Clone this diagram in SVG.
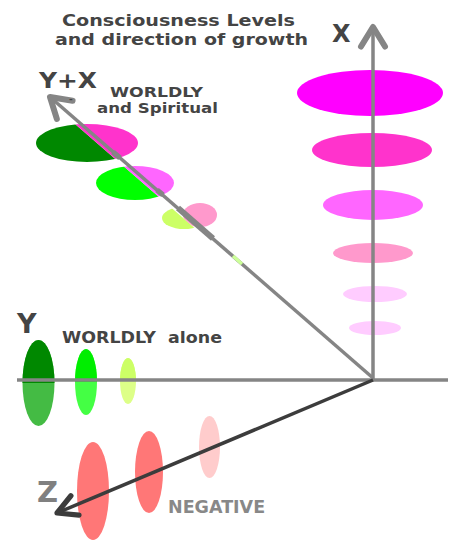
<svg xmlns="http://www.w3.org/2000/svg" width="455" height="541" viewBox="0 0 455 541">
<style>
.t{font-family:"DejaVu Sans",Verdana,sans-serif;font-weight:bold;fill:#444}
.ax{stroke:#858585;stroke-width:3.5;fill:none}
</style>
<defs>
<marker id="ah" markerUnits="userSpaceOnUse" markerWidth="30" markerHeight="30" refX="0" refY="0" viewBox="-16 -10 20 20" orient="auto" overflow="visible">
<path d="M-13,-8 L0,0 L-13,8" fill="none" stroke="#858585" stroke-width="4" stroke-linecap="round" stroke-linejoin="round"/>
</marker>
<marker id="ahz" markerUnits="userSpaceOnUse" markerWidth="30" markerHeight="30" refX="0" refY="0" viewBox="-16 -10 20 20" orient="auto" overflow="visible">
<path d="M-13,-7 L0,0 L-13,7" fill="none" stroke="#3c3c3c" stroke-width="3.5" stroke-linecap="round" stroke-linejoin="round"/>
</marker>
<clipPath id="dl"><polygon points="-200,-115.3 600,580.7 -200,580.7"/></clipPath>
<clipPath id="dr"><polygon points="-200,-115.3 600,580.7 600,-200 -200,-200"/></clipPath>
</defs>

<g id="title">
<text class="t" x="62" y="26" font-size="16.5" textLength="233" lengthAdjust="spacingAndGlyphs">Consciousness Levels</text>
<text class="t" x="55" y="44.5" font-size="16.5" textLength="253" lengthAdjust="spacingAndGlyphs">and direction of growth</text>
</g>

<g id="x-levels">
<ellipse cx="370" cy="93" rx="73" ry="23" fill="#ff00ff"/>
<ellipse cx="372" cy="150" rx="60" ry="17" fill="#ff33cc"/>
<ellipse cx="373" cy="205" rx="50" ry="15" fill="#ff66ff"/>
<ellipse cx="373" cy="253" rx="40" ry="10" fill="#ff99cc"/>
<ellipse cx="375" cy="294" rx="32" ry="8" fill="#ffccff"/>
<ellipse cx="375" cy="328" rx="26" ry="7" fill="#ffccff"/>
</g>

<g id="y-levels">
<ellipse cx="38.5" cy="383" rx="16" ry="43" fill="#44bb44"/>
<path d="M22.5,383 A16,43 0 0 1 54.5,383 Z" fill="#008800"/>
<ellipse cx="86" cy="382" rx="11" ry="33" fill="#44ff44"/>
<path d="M75,382 A11,33 0 0 1 97,382 Z" fill="#00ee00"/>
<ellipse cx="128" cy="381" rx="8" ry="23" fill="#ddff88"/>
<path d="M120,381 A8,23 0 0 1 136,381 Z" fill="#ccff66"/>
</g>

<g id="z-levels">
<ellipse cx="93" cy="491" rx="16" ry="49" fill="#ff7777"/>
<ellipse cx="149" cy="472" rx="14" ry="41" fill="#ff7777"/>
<ellipse cx="209.5" cy="447" rx="10.5" ry="31" fill="#ffcccc"/>
</g>

<g id="yx-levels">
<g clip-path="url(#dl)">
<ellipse cx="87" cy="143" rx="51" ry="19" fill="#008800"/>
<ellipse cx="135" cy="183" rx="39" ry="17" fill="#00ff00"/>
<ellipse cx="184" cy="218" rx="22" ry="11" fill="#ccff66"/>
</g>
<g clip-path="url(#dr)">
<ellipse cx="87" cy="143" rx="51" ry="19" fill="#ff33cc"/>
<ellipse cx="135" cy="183" rx="39" ry="17" fill="#ff66ff"/>
<ellipse cx="200" cy="215" rx="17" ry="12" fill="#ff99cc"/>
</g>
</g>

<g id="connectors">
<line class="ax" x1="17" y1="380" x2="448" y2="380"/>
<line class="ax" x1="373" y1="380" x2="373" y2="27" marker-end="url(#ah)"/>
<line class="ax" x1="373" y1="378" x2="50" y2="97" marker-end="url(#ah)"/>
<line x1="178" y1="208" x2="213" y2="238.5" stroke="#858585" stroke-width="6"/>
<line x1="113" y1="152" x2="120" y2="158" stroke="#858585" stroke-width="5.5"/>
<line x1="157" y1="190" x2="163" y2="195" stroke="#858585" stroke-width="5.5"/>
<line x1="233" y1="256" x2="242" y2="264" stroke="#ccff99" stroke-width="3.5"/>
<line x1="373" y1="380" x2="57" y2="513" stroke="#3c3c3c" stroke-width="3.5" marker-end="url(#ahz)"/>
</g>

<g id="labels">
<text class="t" x="332" y="42" font-size="24">X</text>
<text class="t" x="39" y="88" font-size="21" textLength="58" lengthAdjust="spacingAndGlyphs">Y+X</text>
<text class="t" x="69" y="102" font-size="9" fill="#777">-</text>
<text class="t" x="110" y="96.5" font-size="14.5" textLength="93" lengthAdjust="spacingAndGlyphs">WORLDLY</text>
<text class="t" x="97" y="113" font-size="14.5" textLength="121" lengthAdjust="spacingAndGlyphs">and Spiritual</text>
<text class="t" x="17" y="333" font-size="27">Y</text>
<text class="t" x="62" y="343" font-size="15.5" textLength="160" lengthAdjust="spacingAndGlyphs" xml:space="preserve">WORLDLY  alone</text>
<text class="t" x="37" y="502" font-size="29" style="fill:#808080">Z</text>
<text class="t" x="168" y="513" font-size="17.5" style="fill:#888">NEGATIVE</text>
</g>
</svg>
